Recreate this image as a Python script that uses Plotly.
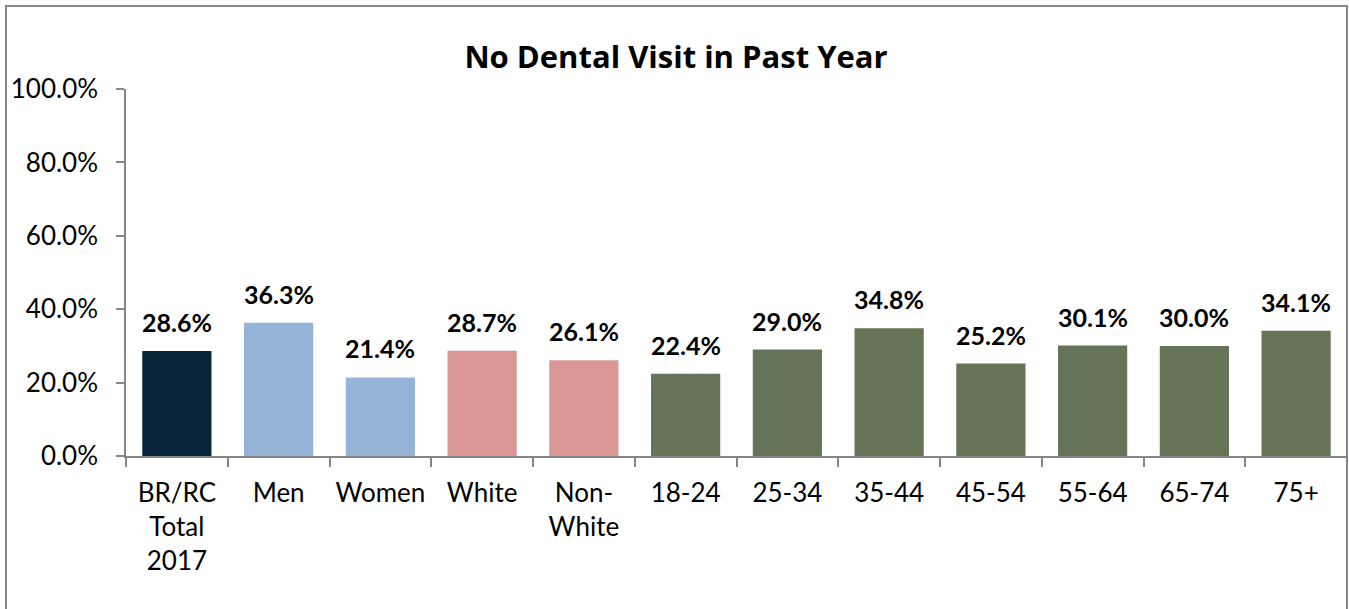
import plotly.graph_objects as go

# Share of adults with no dental visit in the past year
categories = ["BR/RC<br>Total<br>2017", "Men", "Women", "White", "Non-<br>White",
              "18-24", "25-34", "35-44", "45-54", "55-64", "65-74", "75+"]
values = [28.6, 36.3, 21.4, 28.7, 26.1, 22.4, 29.0, 34.8, 25.2, 30.1, 30.0, 34.1]
bar_colors = ["#08253A", "#95B3D7", "#95B3D7", "#D99694", "#D99694",
              "#657456", "#657456", "#657456", "#657456", "#657456", "#657456", "#657456"]
y_ticks = [0, 20, 40, 60, 80, 100]

W, H = 1349, 609
ML, MR, MT, MB = 126, 2, 89, 153
FONT = "Lato, 'Open Sans', sans-serif"

fig = go.Figure()
fig.add_trace(go.Bar(
    x=categories,
    y=values,
    marker=dict(color=bar_colors, line=dict(width=0)),
    hoverinfo="skip",
))

# bold value labels above each bar
for c, v in zip(categories, values):
    fig.add_annotation(
        x=c, y=v, text=f"<b>{v:.1f}%</b>", showarrow=False,
        yanchor="bottom", yshift=12,
        font=dict(family=FONT, size=25, color="#000000"),
    )

# outer chart frame
pw, ph = W - ML - MR, H - MT - MB
fig.add_shape(
    type="rect", xref="paper", yref="paper",
    x0=(6 - ML) / pw, x1=(1347 - ML) / pw,
    y0=(H - 612 - MB) / ph, y1=(H - 6 - MB) / ph,
    line=dict(color="#868686", width=2), fillcolor="rgba(0,0,0,0)", layer="below",
)

fig.update_layout(
    width=W, height=H,
    margin=dict(l=ML, r=MR, t=MT, b=MB),
    paper_bgcolor="white", plot_bgcolor="white",
    showlegend=False,
    bargap=0.32,
    font=dict(family=FONT, size=26, color="#000000"),
    title=dict(
        text="<b>No Dental Visit in Past Year</b>",
        x=(676 - ML) / pw, xref="paper", xanchor="center",
        y=1 - 57 / H, yref="container", yanchor="middle",
        font=dict(family="'Open Sans', sans-serif", size=31, color="#000000"),
    ),
    xaxis=dict(
        showline=True, linecolor="#868686", linewidth=1.5,
        ticks="outside", tickson="boundaries", ticklen=9, tickcolor="#868686", tickwidth=1.5,
        showgrid=False, ticklabelstandoff=13,
        tickfont=dict(family=FONT, size=26, color="#000000"),
    ),
    yaxis=dict(
        range=[0, 100], tickvals=y_ticks,
        ticktext=[f"{t:.1f}%" for t in y_ticks],
        showline=True, linecolor="#868686", linewidth=1.5,
        ticks="outside", ticklen=8, tickcolor="#868686", tickwidth=1.5,
        showgrid=False, zeroline=False, ticklabelstandoff=13,
        tickfont=dict(family=FONT, size=26, color="#000000"),
    ),
)

fig.write_html("out.html")
